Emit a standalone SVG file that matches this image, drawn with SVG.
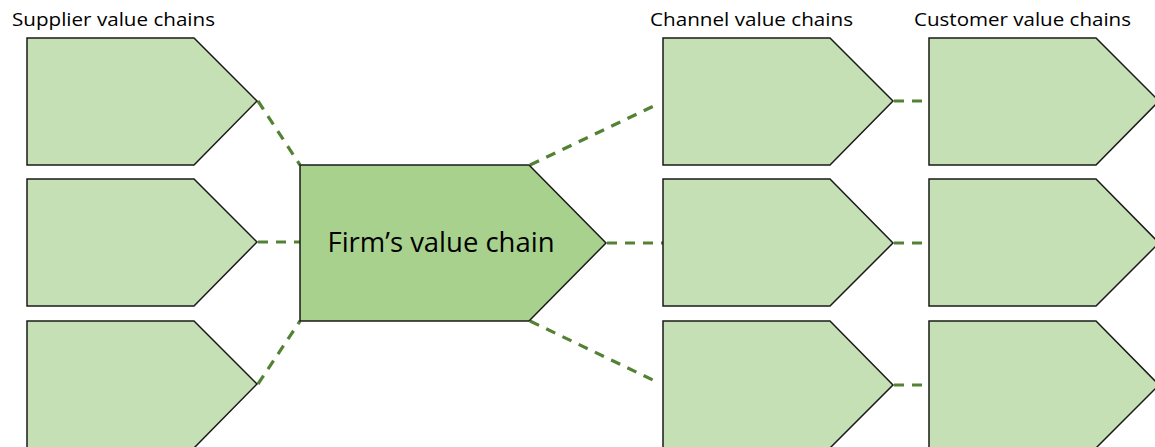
<svg xmlns="http://www.w3.org/2000/svg" width="1155" height="447" viewBox="0 0 1155 447">
<style>
.sm{fill:#C5E0B4;stroke:#1a1a1a;stroke-width:1.5;stroke-linejoin:miter}
.firm{fill:#A9D18E;stroke:#1a1a1a;stroke-width:1.5}
.lbl{font-family:"Open Sans","Liberation Sans",sans-serif;font-size:18.5px;fill:#000}
.ft{font-family:"Open Sans","Liberation Sans",sans-serif;font-size:27px;fill:#000}
.c{fill:none;stroke:#548235;stroke-width:3.2;stroke-dasharray:10 8}
</style>
<rect width="1155" height="447" fill="#fff"/>
<g id="labels">
<text class="lbl" x="12" y="26" textLength="203" lengthAdjust="spacingAndGlyphs">Supplier value chains</text>
<text class="lbl" x="650" y="26" textLength="203" lengthAdjust="spacingAndGlyphs">Channel value chains</text>
<text class="lbl" x="914" y="26" textLength="217" lengthAdjust="spacingAndGlyphs">Customer value chains</text>
</g>
<g id="connectors">
<line class="c" x1="258" y1="101" x2="300" y2="165"/>
<line class="c" x1="258" y1="242" x2="300" y2="242"/>
<line class="c" x1="258" y1="384" x2="300" y2="321"/>
<line class="c" x1="530" y1="165" x2="660" y2="103"/>
<line class="c" x1="607" y1="243" x2="663" y2="243"/>
<line class="c" x1="530" y1="321" x2="657" y2="382"/>
<line class="c" x1="894" y1="101" x2="929" y2="101"/>
<line class="c" x1="894" y1="243" x2="929" y2="243"/>
<line class="c" x1="894" y1="385" x2="929" y2="385"/>
</g>
<g id="supplier1"><polygon class="sm" points="27,38 194,38 257,101 194,165 27,165"/></g>
<g id="supplier2"><polygon class="sm" points="27,179 194,179 257,242 194,306 27,306"/></g>
<g id="supplier3"><polygon class="sm" points="27,321 194,321 257,384 194,448 27,448"/></g>
<g id="firm">
<polygon class="firm" points="300,165 529,165 606,243 529,321 300,321"/>
<text class="ft" x="441" y="252" text-anchor="middle" textLength="227" lengthAdjust="spacingAndGlyphs">Firm’s value chain</text>
</g>
<g id="channel1"><polygon class="sm" points="663,38 830,38 893,101 830,165 663,165"/></g>
<g id="channel2"><polygon class="sm" points="663,179 830,179 893,243 830,306 663,306"/></g>
<g id="channel3"><polygon class="sm" points="663,321 830,321 893,385 830,448 663,448"/></g>
<g id="customer1"><polygon class="sm" points="929,38 1096,38 1159,101 1096,165 929,165"/></g>
<g id="customer2"><polygon class="sm" points="929,179 1096,179 1159,243 1096,306 929,306"/></g>
<g id="customer3"><polygon class="sm" points="929,321 1096,321 1159,385 1096,448 929,448"/></g>
</svg>
